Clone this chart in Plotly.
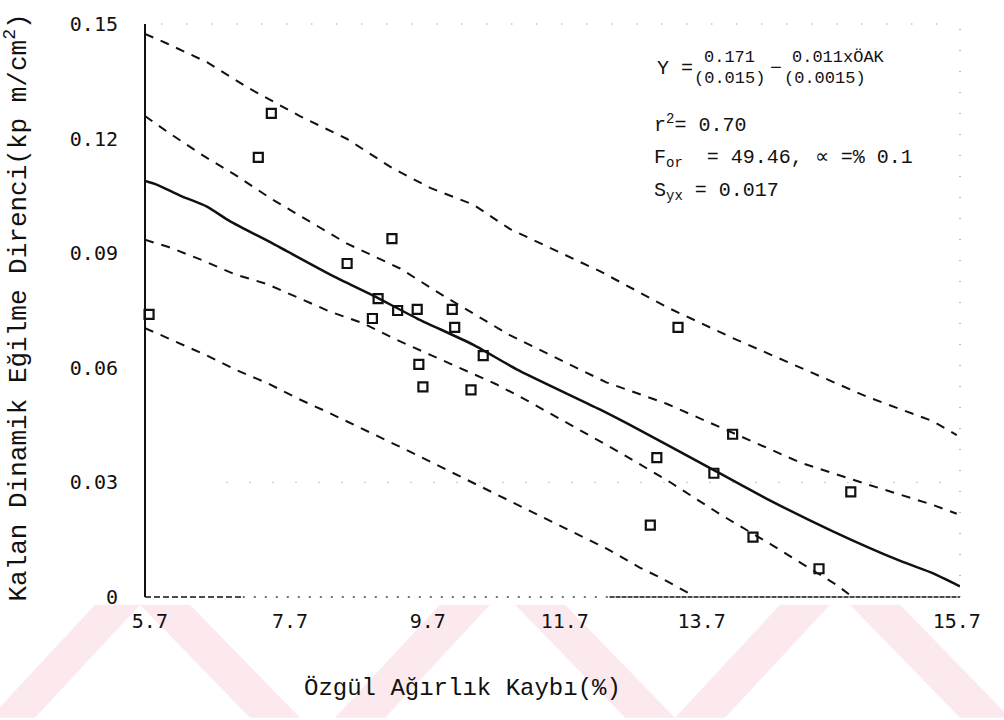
import plotly.graph_objects as go

# Observed samples: specific weight loss (%) vs residual dynamic bending strength
obs_x = [5.75, 7.09, 7.25, 8.18, 8.73, 8.56, 8.49, 8.80, 9.04, 9.06, 9.11, 9.47,
         9.50, 9.70, 9.85, 12.24, 11.98, 11.90, 12.68, 12.91, 13.16, 13.97, 14.36]
obs_y = [0.0740, 0.1151, 0.1266, 0.0873, 0.0938, 0.0781, 0.0729, 0.0750, 0.0753,
         0.0609, 0.0550, 0.0753, 0.0706, 0.0542, 0.0632, 0.0706, 0.0365, 0.0188,
         0.0324, 0.0426, 0.0157, 0.0074, 0.0275]

# Fitted regression curve
fit_x = [5.70, 5.85, 6.13, 6.46, 6.74, 7.27, 8.01, 8.50, 9.04, 9.73, 10.26, 11.28,
         11.77, 12.51, 13.33, 14.14, 14.96, 15.37, 15.70]
fit_y = [0.1089, 0.1079, 0.1051, 0.1022, 0.0984, 0.0925, 0.0840, 0.0789, 0.0729,
         0.0660, 0.0596, 0.0491, 0.0437, 0.0352, 0.0257, 0.0172, 0.0095, 0.0062, 0.0028]

# Outer band (upper)
up_out_x = [5.70, 5.97, 6.46, 6.99, 7.60, 8.18, 8.74, 9.20, 9.73, 10.18, 11.28,
            12.14, 12.91, 13.74, 14.56, 15.37, 15.66]
up_out_y = [0.1474, 0.1449, 0.1400, 0.1330, 0.1259, 0.1199, 0.1122, 0.1071, 0.1027,
            0.0963, 0.0853, 0.0755, 0.0678, 0.0601, 0.0524, 0.0460, 0.0424]

# Inner band (upper)
up_in_x = [5.70, 5.98, 6.41, 6.83, 7.23, 7.60, 8.18, 8.83, 9.32, 10.17, 11.36,
           12.10, 12.91, 13.74, 14.56, 15.37, 15.66]
up_in_y = [0.1259, 0.1217, 0.1156, 0.1102, 0.1045, 0.0999, 0.0925, 0.0860, 0.0794,
           0.0686, 0.0562, 0.0506, 0.0429, 0.0352, 0.0295, 0.0241, 0.0218]

# Inner band (lower)
lo_in_x = [5.70, 5.98, 6.41, 6.80, 7.20, 7.60, 7.97, 8.37, 8.79, 9.20, 9.60, 10.01,
           10.39, 11.53, 12.14, 12.76, 13.37, 13.77, 14.19, 14.35]
lo_in_y = [0.0935, 0.0917, 0.0881, 0.0845, 0.0819, 0.0781, 0.0747, 0.0717, 0.0673,
           0.0634, 0.0596, 0.0557, 0.0514, 0.0378, 0.0301, 0.0216, 0.0139, 0.0087,
           0.0031, 0.0005]

# Outer band (lower)
lo_out_x = [5.70, 5.97, 6.44, 6.83, 7.20, 7.58, 7.93, 8.83, 9.81, 10.55, 11.37,
            11.77, 12.02, 12.39]
lo_out_y = [0.0704, 0.0678, 0.0634, 0.0593, 0.0560, 0.0519, 0.0485, 0.0393, 0.0290,
            0.0211, 0.0126, 0.0077, 0.0051, 0.0008]

x_tick_text = ["5.7", "7.7", "9.7", "11.7", "13.7", "15.7"]
y_ticks = [0, 0.03, 0.06, 0.09, 0.12, 0.15]
y_tick_text = ["0", "0.03", "0.06", "0.09", "0.12", "0.15"]

MONO = "Liberation Mono"
TICKFONT = "DejaVu Sans Mono"
INK = "#111111"

# the typed x labels sit at fixed typewriter stops under the axis
x_label_stops = [5.76, 7.48, 9.17, 10.85, 12.53, 15.66]

# plot-area pixel frame, used to place free text in paper units
L, R, T, B = 145, 960, 13, 597


def px(xp):
    return (xp - L) / (R - L)


def py(yp):
    return (B - yp) / (B - T)


fig = go.Figure()

# thesis watermark stripes in the bottom strip (pixel outlines)
pink = "rgba(226,110,135,0.15)"
stripes = [
    [(140, 605), (190, 605), (300, 720), (250, 720)],
    [(440, 605), (490, 605), (385, 720), (335, 720)],
    [(515, 605), (565, 605), (675, 720), (625, 720)],
    [(780, 605), (830, 605), (725, 720), (675, 720)],
    [(850, 605), (900, 605), (1010, 720), (960, 720)],
    [(95, 605), (140, 605), (35, 720), (-10, 720)],
]
for poly in stripes:
    path = "M " + " L ".join(f"{px(a):.4f},{py(b):.4f}" for a, b in poly) + " Z"
    fig.add_shape(type="path", path=path, xref="paper", yref="paper",
                  fillcolor=pink, line_width=0, layer="below")

band_line = dict(color=INK, width=2, dash="9px,8px")
for bx, by in [(up_out_x, up_out_y), (up_in_x, up_in_y),
               (lo_in_x, lo_in_y), (lo_out_x, lo_out_y)]:
    fig.add_trace(go.Scatter(x=bx, y=by, mode="lines", line=band_line,
                             hoverinfo="skip", showlegend=False))

fig.add_trace(go.Scatter(x=fit_x, y=fit_y, mode="lines",
                         line=dict(color=INK, width=2.5, shape="spline", smoothing=0.6),
                         showlegend=False))

fig.add_trace(go.Scatter(x=obs_x, y=obs_y, mode="markers",
                         marker=dict(symbol="square-open", size=9,
                                     color=INK, line=dict(width=2.2)),
                         cliponaxis=False, showlegend=False))

# frame: solid left axis, mixed bottom axis, faint dotted top/right
fig.add_shape(type="line", xref="x domain", yref="y domain", x0=0, x1=0, y0=0, y1=1,
              line=dict(color=INK, width=2))
fig.add_shape(type="line", xref="x domain", yref="y domain", x0=0, x1=0.12, y0=0, y1=0,
              line=dict(color=INK, width=1.6, dash="6px,3px"))
fig.add_shape(type="line", xref="x domain", yref="y domain", x0=0.12, x1=0.57, y0=0, y1=0,
              line=dict(color="#444", width=1.3, dash="2px,9px"))
fig.add_shape(type="line", xref="x domain", yref="y domain", x0=0.57, x1=1, y0=0, y1=0,
              line=dict(color=INK, width=1.4, dash="5px,1px"))
fig.add_shape(type="line", xref="x domain", yref="y domain", x0=0.02, x1=1, y0=1, y1=1,
              line=dict(color="#777", width=1, dash="1px,24px"))
fig.add_shape(type="line", xref="x domain", yref="y domain", x0=1, x1=1, y0=0, y1=1,
              line=dict(color="#777", width=1, dash="1px,20px"))
fig.add_shape(type="line", xref="x domain", y0=0.03, y1=0.03, x0=0.1, x1=1,
              line=dict(color="#888", width=1, dash="1px,22px"))

# regression summary block
big = dict(family=MONO, size=20, color=INK)
mid = dict(family=MONO, size=17, color=INK)
notes = [
    (655, 58, "Y =", big),
    (702, 47, "0.171", mid),
    (692, 69, "(0.015)", mid),
    (768, 58, "−", big),
    (790, 47, "0.011xÖAK", mid),
    (782, 69, "(0.0015)", mid),
    (652, 115, "r<sup>2</sup>= 0.70", big),
    (652, 150, "F<sub>or</sub>  = 49.46, ∝ =% 0.1", big),
    (652, 184, "S<sub>yx</sub> = 0.017", big),
]
for xp, yp, txt, fnt in notes:
    fig.add_annotation(x=px(xp), y=py(yp), xref="paper", yref="paper",
                       text=txt, showarrow=False, xanchor="left", yanchor="middle",
                       font=fnt)

fig.add_annotation(x=px(17), y=py(302), xref="paper", yref="paper",
                   text="Kalan Dinamik Eğilme Direnci(kp m/cm<sup>2</sup>)",
                   textangle=-90, showarrow=False, xanchor="center", yanchor="middle",
                   font=dict(family=MONO, size=26, color=INK))
fig.add_annotation(x=px(462), y=py(690), xref="paper", yref="paper",
                   text="Özgül Ağırlık Kaybı(%)", showarrow=False,
                   xanchor="center", yanchor="middle",
                   font=dict(family=MONO, size=24, color=INK))

fig.update_xaxes(range=[5.7, 15.7], showgrid=False, zeroline=False, showline=False,
                 tickvals=x_label_stops, ticktext=x_tick_text, ticks="",
                 ticklabelstandoff=10,
                 tickfont=dict(family=TICKFONT, size=20, color=INK))
fig.update_yaxes(range=[0, 0.15], showgrid=False, zeroline=False, showline=False,
                 tickvals=y_ticks, ticktext=y_tick_text, ticks="", ticklabelstandoff=26,
                 tickfont=dict(family=TICKFONT, size=20, color=INK))

fig.update_layout(width=1004, height=720, margin=dict(l=L, r=1004 - R, t=T, b=720 - B),
                  paper_bgcolor="white", plot_bgcolor="white", showlegend=False)

fig.write_html("out.html")
